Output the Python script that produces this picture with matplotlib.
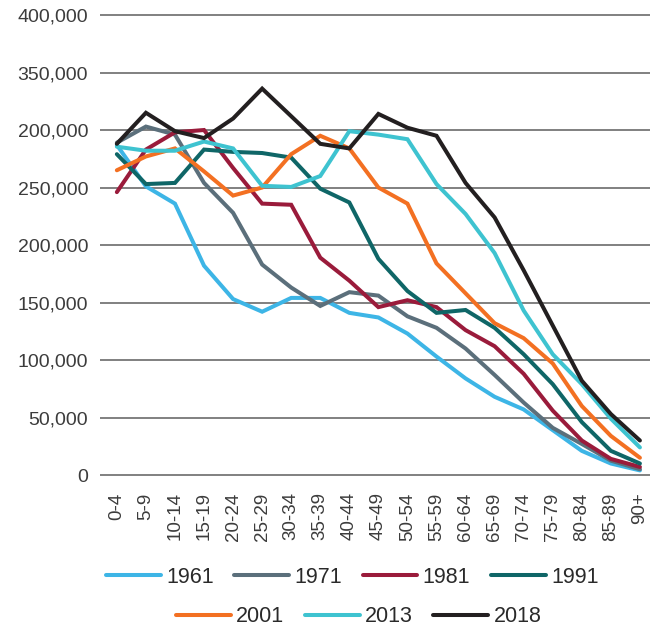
import matplotlib.pyplot as plt
from matplotlib.ticker import FixedLocator, FixedFormatter

plt.rcParams['font.family'] = ['Liberation Sans', 'DejaVu Sans']

# age bands on the x axis
ages = ['0-4', '5-9', '10-14', '15-19', '20-24', '25-29', '30-34', '35-39',
        '40-44', '45-49', '50-54', '55-59', '60-64', '65-69', '70-74',
        '75-79', '80-84', '85-89', '90+']

# population per age band, one list per census year
pop_1961 = [287000, 251000, 236000, 182000, 153000, 142000, 154000, 154000,
            141000, 137000, 123000, 103000, 84000, 68000, 57000, 39000,
            21000, 10000, 4000]
pop_1971 = [289000, 303000, 296000, 254000, 228000, 183000, 163000, 147000,
            159000, 156000, 138000, 128000, 110000, 87000, 63000, 41000,
            27000, 12500, 5000]
pop_1981 = [246000, 283000, 298000, 300000, 267000, 236000, 235000, 189000,
            169000, 146000, 152000, 146000, 126000, 112000, 88000, 56000,
            30000, 14000, 7000]
pop_1991 = [279000, 253000, 254000, 283000, 281000, 280000, 276000, 249000,
            237000, 188000, 160000, 141000, 143500, 128000, 105000, 79000,
            46000, 21000, 10000]
pop_2001 = [265000, 277000, 284000, 264000, 243000, 250000, 279000, 295000,
            284000, 250000, 236000, 184000, 158000, 132000, 119000, 97000,
            60000, 34000, 15000]
pop_2013 = [285500, 282000, 282000, 290000, 284000, 251500, 250500, 260000,
            299000, 296000, 292000, 253000, 227000, 193000, 143000, 105000,
            79000, 49000, 24000]
pop_2018 = [288000, 315000, 299000, 293000, 310000, 336000, 312000, 288000,
            284000, 314000, 302000, 295000, 254000, 224000, 178000, 130000,
            82000, 53000, 30000]

years = ['1961', '1971', '1981', '1991', '2001', '2013', '2018']
series = [pop_1961, pop_1971, pop_1981, pop_1991, pop_2001, pop_2013, pop_2018]
colors = ['#3db5e6', '#5b6f7b', '#9a1b3b', '#0f6667', '#f37022', '#3ec3d0', '#231f20']

# y tick labels exactly as printed on the original
ytick_vals = [0, 50000, 100000, 150000, 200000, 250000, 300000, 350000, 400000]
ytick_text = ['0', '50,000', '100,000', '150,000', '200,000', '250,000',
              '200,000', '350,000', '400,000']

fig = plt.figure(figsize=(6.51, 6.26), dpi=100)
ax = fig.add_axes([0.1536, 0.2357, 0.845, 0.7458])

x = list(range(len(ages)))
lines = []
for yr, vals, c in zip(years, series, colors):
    ln, = ax.plot(x, vals, color=c, lw=2.9, label=yr, solid_capstyle='round',
                  solid_joinstyle='miter', zorder=3)
    lines.append(ln)

ax.set_xlim(-0.58, 18.35)
ax.set_ylim(-3000, 403000)
ax.yaxis.set_major_locator(FixedLocator(ytick_vals))
ax.yaxis.set_major_formatter(FixedFormatter(ytick_text))
ax.set_xticks(x)
ax.set_xticklabels(ages, rotation=90, va='top', ha='center')
ax.grid(axis='y', color='#808080', lw=1.4, zorder=1)
ax.set_axisbelow(True)
for s in ax.spines.values():
    s.set_visible(False)
ax.tick_params(axis='y', length=0, pad=8.5, labelsize=14, labelcolor='#3c3c3c')
ax.tick_params(axis='x', length=0, pad=10, labelsize=13.5, labelcolor='#3c3c3c')

leg_kw = dict(frameon=False, fontsize=15.5, handlelength=2.55, handletextpad=0.25,
              columnspacing=0.95, borderaxespad=0, borderpad=0, labelcolor='#2a2a2a')
leg1 = fig.legend(handles=lines[:4], ncol=4, loc='center',
                  bbox_to_anchor=(0.541, 0.078), **leg_kw)
leg2 = fig.legend(handles=lines[4:], ncol=3, loc='center',
                  bbox_to_anchor=(0.551, 0.015), **leg_kw)

plt.savefig('out.png', dpi=100)
